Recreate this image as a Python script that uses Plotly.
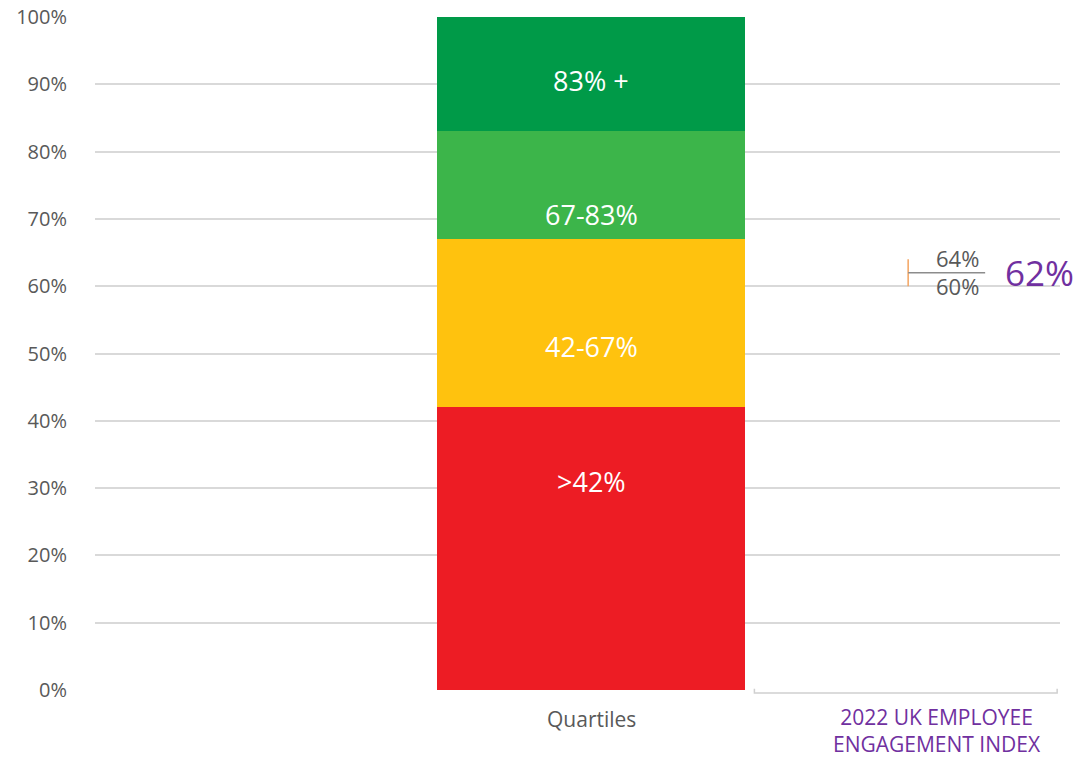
import plotly.graph_objects as go

# ---- data ----
band_names = [">42%", "42-67%", "67-83%", "83% +"]
band_sizes = [42, 25, 16, 17]
band_colors = ["#ED1C24", "#FFC20E", "#3CB54A", "#009A48"]
band_label_y = [31, 51, 70.7, 90.6]

category_labels = ["Quartiles", "2022 UK EMPLOYEE<br>ENGAGEMENT INDEX"]

index_value = 62
index_low = 60
index_high = 64

y_ticks = list(range(0, 101, 10))
y_tick_labels = [f"{v}%" for v in y_ticks]

x_bar = 1
x_index = 2

FONT = "Open Sans"
GRAY = "#595959"
PURPLE = "#7030A0"

fig = go.Figure()

for name, size, col in zip(band_names, band_sizes, band_colors):
    fig.add_trace(go.Bar(
        x=[x_bar], y=[size], name=name, marker=dict(color=col, line=dict(width=0)),
        width=0.972, showlegend=False, hoverinfo="skip"))

annotations = []
for name, ly in zip(band_names, band_label_y):
    annotations.append(dict(x=x_bar, y=ly, xref="x", yref="y", text=name, showarrow=False,
                            font=dict(family=FONT, size=27, color="white")))

# index with range
fig.add_trace(go.Scatter(
    x=[x_index], y=[index_value], mode="markers",
    marker=dict(size=1, color="rgba(0,0,0,0)"),
    error_y=dict(type="data", symmetric=False,
                 array=[index_high - index_value], arrayminus=[index_value - index_low],
                 color="#F4A460", thickness=1.5, width=0),
    showlegend=False, hoverinfo="skip"))

annotations += [
    dict(x=x_index, y=index_high, xref="x", yref="y", xshift=49, yshift=1, text=f"{index_high}%",
         showarrow=False, font=dict(family=FONT, size=22, color=GRAY)),
    dict(x=x_index, y=index_low, xref="x", yref="y", xshift=49, text=f"{index_low}%",
         showarrow=False, font=dict(family=FONT, size=22, color=GRAY)),
    dict(x=x_index, y=index_value, xref="x", yref="y", xshift=131, text=f"{index_value}%",
         showarrow=False, font=dict(family=FONT, size=35, color=PURPLE)),
    # category labels
    dict(x=x_bar, y=0, xref="x", yref="paper", yanchor="top", yshift=-13,
         text=category_labels[0], showarrow=False,
         font=dict(family=FONT, size=21, color=GRAY)),
    dict(x=2.09, y=0, xref="x", yref="paper", yanchor="top", yshift=-11,
         text=category_labels[1], showarrow=False,
         font=dict(family=FONT, size=21, color=PURPLE)),
]

shapes = [
    dict(type="line", xref="x", yref="y", xsizemode="pixel", xanchor=x_index,
         x0=0, x1=77, y0=index_value, y1=index_value,
         line=dict(color="#8c8c8c", width=1.5)),
    dict(type="path", xref="x", yref="paper",
         path="M 1.515 0.002 L 1.515 -0.0045 L 2.47 -0.0045 L 2.47 0.002",
         line=dict(color="#d0d0d0", width=1.5)),
]

fig.update_layout(
    width=1078, height=760,
    margin=dict(l=95, r=18, t=17, b=70, autoexpand=False),
    barmode="stack",
    plot_bgcolor="white", paper_bgcolor="white",
    font=dict(family=FONT, color=GRAY),
    annotations=annotations,
    shapes=shapes,
    xaxis=dict(range=[-0.565, 2.479], showticklabels=False,
               showgrid=False, zeroline=False, showline=False, ticks="",
               automargin=False),
    yaxis=dict(range=[0, 100], tickvals=y_ticks, ticktext=y_tick_labels,
               showgrid=True, gridcolor="#d9d9d9", gridwidth=1.5,
               zeroline=False, showline=False, ticks="",
               ticklabelstandoff=27, automargin=False,
               tickfont=dict(family=FONT, size=20, color=GRAY)),
)

fig.write_html("out.html")
